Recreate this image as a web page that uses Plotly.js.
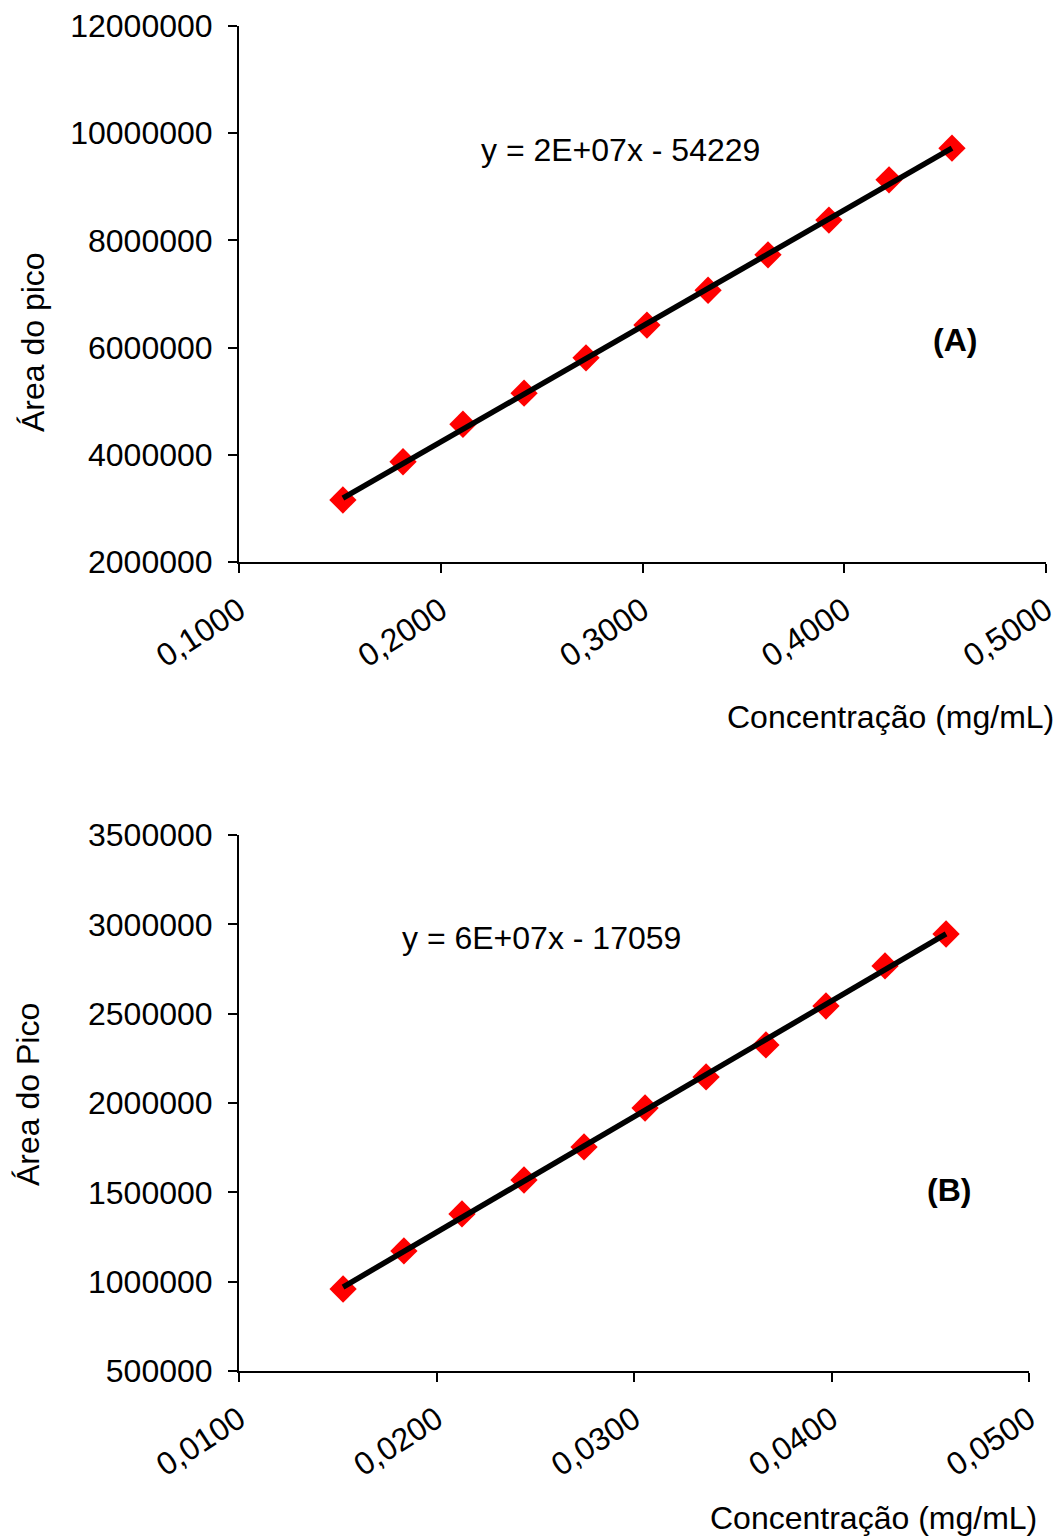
<!DOCTYPE html>
<html>
<head>
<meta charset="utf-8">
<script src="https://cdn.plot.ly/plotly-3.0.1.min.js"></script>
<style>html,body{margin:0;padding:0;background:#fff;}#chart{width:1061px;height:1537px;}</style>
</head>
<body>
<div id="chart"></div>
<script>
// Panel A data
const concA = [0.1515, 0.1813, 0.2110, 0.2413, 0.2720, 0.3022, 0.3325, 0.3622, 0.3924, 0.4222, 0.4534];
const areaA = [3157000, 3870000, 4570000, 5150000, 5810000, 6420000, 7070000, 7730000, 8380000, 9130000, 9720000];
const trendAx = [0.1515, 0.4534];
const trendAy = [3190000, 9720000];
const eqA = "y = 2E+07x - 54229";
const labelA = "(A)";
const yTitleA = "Área do pico";

// Panel B data
const concB = [0.01527, 0.01835, 0.02129, 0.02443, 0.02747, 0.03056, 0.03365, 0.03668, 0.03972, 0.04271, 0.04580];
const areaB = [959000, 1172000, 1379000, 1569000, 1754000, 1972000, 2146000, 2325000, 2543000, 2767000, 2946000];
const trendBx = [0.01527, 0.04580];
const trendBy = [970000, 2946000];
const eqB = "y = 6E+07x - 17059";
const labelB = "(B)";
const yTitleB = "Área do Pico";

const xTitle = "Concentração (mg/mL)";

const W = 1061, H = 1537;
const px = v => v / W;
const py = v => 1 - v / H;
const FONT = "Liberation Sans, Arial, sans-serif";
const fs = 32;

const markerStyle = {symbol: "diamond", size: 21, color: "#ff0000"};
const lineStyle = {color: "#000000", width: 5.5};

const traces = [
  {x: concA, y: areaA, mode: "markers", type: "scatter", marker: markerStyle, xaxis: "x", yaxis: "y", showlegend: false},
  {x: trendAx, y: trendAy, mode: "lines", type: "scatter", line: lineStyle, xaxis: "x", yaxis: "y", showlegend: false},
  {x: concB, y: areaB, mode: "markers", type: "scatter", marker: markerStyle, xaxis: "x2", yaxis: "y2", showlegend: false},
  {x: trendBx, y: trendBy, mode: "lines", type: "scatter", line: lineStyle, xaxis: "x2", yaxis: "y2", showlegend: false}
];

const axBase = {
  showgrid: false, zeroline: false, showline: true, linecolor: "#000", linewidth: 2,
  ticks: "outside", ticklen: 9, tickwidth: 2, tickcolor: "#000",
  tickfont: {family: FONT, size: fs, color: "#000"}
};

const layout = {
  width: W, height: H,
  margin: {l: 0, r: 0, t: 0, b: 0},
  paper_bgcolor: "#fff", plot_bgcolor: "#fff",
  separators: ",.",
  font: {family: FONT, size: fs, color: "#000"},
  xaxis: Object.assign({}, axBase, {domain: [px(239), px(1046)], range: [0.1, 0.5], dtick: 0.1, tick0: 0.1, tickformat: ".4f", tickangle: -33, anchor: "y", ticklabelstandoff: 6}),
  yaxis: Object.assign({}, axBase, {domain: [py(562), py(26)], range: [2000000, 12000000], dtick: 2000000, tickformat: "d", anchor: "x", ticklabelstandoff: 9}),
  xaxis2: Object.assign({}, axBase, {domain: [px(239), px(1029)], range: [0.01, 0.05], dtick: 0.01, tick0: 0.01, tickformat: ".4f", tickangle: -33, anchor: "y2", ticklabelstandoff: 6}),
  yaxis2: Object.assign({}, axBase, {domain: [py(1371), py(835)], range: [500000, 3500000], dtick: 500000, tickformat: "d", anchor: "x2", ticklabelstandoff: 9}),
  annotations: [
    {text: eqA, xref: "paper", yref: "paper", x: px(620), y: py(150), xanchor: "center", yanchor: "middle", showarrow: false, font: {family: FONT, size: fs}},
    {text: "<b>" + labelA + "</b>", xref: "paper", yref: "paper", x: px(955), y: py(340), xanchor: "center", yanchor: "middle", showarrow: false, font: {family: FONT, size: fs}},
    {text: xTitle, xref: "paper", yref: "paper", x: px(1056), y: py(717), xanchor: "right", yanchor: "middle", showarrow: false, font: {family: FONT, size: fs}},
    {text: yTitleA, xref: "paper", yref: "paper", x: px(33), y: py(342), xanchor: "center", yanchor: "middle", textangle: -90, showarrow: false, font: {family: FONT, size: fs}},
    {text: eqB, xref: "paper", yref: "paper", x: px(541), y: py(938), xanchor: "center", yanchor: "middle", showarrow: false, font: {family: FONT, size: fs}},
    {text: "<b>" + labelB + "</b>", xref: "paper", yref: "paper", x: px(949), y: py(1190), xanchor: "center", yanchor: "middle", showarrow: false, font: {family: FONT, size: fs}},
    {text: xTitle, xref: "paper", yref: "paper", x: px(1039), y: py(1518), xanchor: "right", yanchor: "middle", showarrow: false, font: {family: FONT, size: fs}},
    {text: yTitleB, xref: "paper", yref: "paper", x: px(28), y: py(1095), xanchor: "center", yanchor: "middle", textangle: -90, showarrow: false, font: {family: FONT, size: fs}}
  ]
};

Plotly.newPlot("chart", traces, layout, {displayModeBar: false, staticPlot: true});
</script>
</body>
</html>
